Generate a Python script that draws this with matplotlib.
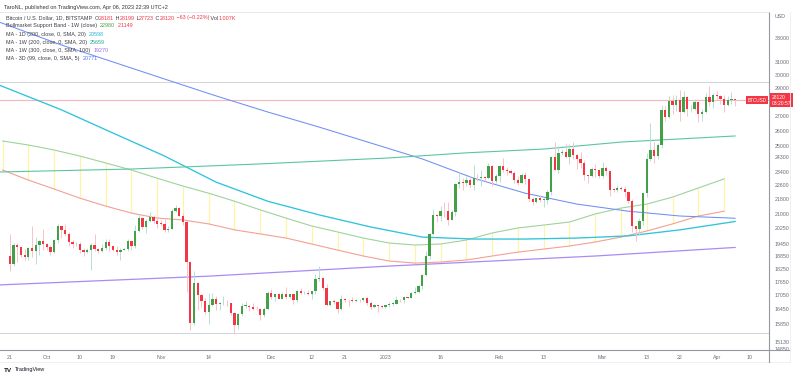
import numpy as np
import pandas as pd
import matplotlib
matplotlib.use("Agg")
import matplotlib.pyplot as plt
import matplotlib.transforms as mtrans
from matplotlib.lines import Line2D

plt.rcParams['font.family'] = ['Liberation Sans', 'DejaVu Sans']

# daily BTCUSD candles, Sep 21 2022 .. Apr 6 2023
dates = pd.date_range('2022-09-21', '2023-04-06', freq='D')

opens = [
    18870, 18480, 19410, 19290, 18920, 18800, 19220, 19080, 19410, 19590,
    19420, 19310, 19060, 19630, 20340, 20160, 19960, 19530, 19420, 19440, 19130, 19060, 19150, 19380, 19180, 19070,
    19260, 19550, 19330, 19120, 19040, 19160, 19200, 19570, 19330, 20090, 20770, 20290, 20600, 20820, 20630,
    20490, 20480, 20150, 20200, 21150, 21300, 20910, 20590, 18540, 15880, 17590, 17040, 16800, 16330, 16620,
    16900, 16660, 16690, 16700, 16690, 16280, 15780, 16230, 16600, 16600, 16520, 16460, 16440, 16210, 16440,
    17160, 16980, 17090, 16890, 17110, 16970, 17090, 16840, 17220, 17130, 17130, 17090, 17210, 17780, 17810,
    17360, 16630, 16780, 16740, 16440, 16900, 16830, 16820, 16780, 16840, 16830, 16920, 16700, 16540, 16630, 16600,
    16540, 16610, 16670, 16670, 16850, 16830, 16950, 16940, 17120, 17180, 17440, 17940, 18850, 19930, 20950,
    20870, 21170, 21160, 20690, 21080, 22680, 22780, 22720, 22930, 22630, 23060, 23020, 23080, 23030, 23770, 22840,
    23130, 23730, 23490, 23430, 23330, 22930, 22760, 23240, 22960, 21800, 21630, 21860, 21780, 21780,
    22200, 24330, 23520, 24570, 24630, 24280, 24830, 24440, 24190, 23940, 23190, 23160, 23560, 23490,
    23140, 23630, 23470, 22360, 22350, 22430, 22410, 22200, 21700, 20360, 20190, 20630, 22140, 24200, 24740,
    24380, 25050, 27420, 26970, 28040, 27770, 28170, 27300, 28330, 27490, 27490, 27990, 27140, 27270, 28360, 28030,
    28480, 28460, 28200, 27800, 28170, 28181]
highs = [
    19950, 19500, 19490, 19310, 19170, 19310, 20340, 19780, 19640, 20180,
    19480, 19390, 19700, 20470, 20360, 20450, 20060, 19620, 19520, 19520, 19250, 19220, 19510, 19950, 19230, 19420,
    19680, 19700, 19350, 19340, 19250, 19250, 19690, 19600, 20410, 21010, 20860, 20740, 21080, 20920, 20830,
    20690, 20790, 20380, 21290, 21470, 21360, 21050, 20680, 18590, 18150, 17640, 17080, 16930, 17160, 17130,
    16990, 16760, 16990, 16830, 16720, 16310, 16270, 16700, 16780, 16620, 16690, 16600, 16480, 16530, 17240,
    17310, 17100, 17150, 17190, 17420, 17110, 17140, 17290, 17350, 17230, 17270, 17240, 17980, 18390, 17850,
    17530, 16800, 16870, 16810, 17050, 16920, 16870, 16950, 16860, 16860, 16940, 16970, 16780, 16660, 16640, 16640,
    16630, 16760, 16770, 17000, 16880, 17020, 16960, 17170, 17390, 17490, 17990, 19100, 19990, 21260, 20990,
    21460, 21640, 21650, 21200, 22740, 23370, 23060, 23170, 23150, 23800, 23280, 23500, 23170, 23950, 23800, 23300,
    23790, 24250, 23700, 23580, 23430, 23150, 23340, 23420, 22990, 21920, 21900, 22060, 21880, 22320,
    24370, 25250, 24990, 24790, 25160, 25120, 25250, 24470, 24600, 24130, 23210, 23670, 23880, 23590,
    24000, 23780, 23480, 22420, 22620, 22570, 22540, 22280, 21820, 20360, 20800, 22160, 24550, 26500, 25250,
    25200, 27760, 27720, 28450, 28520, 28480, 28900, 28790, 28400, 27790, 28200, 28030, 27500, 28650, 29180, 28650,
    28800, 28530, 28480, 28430, 28760, 28199]
lows = [
    18130, 18360, 18560, 18820, 18640, 18680, 18820, 18470, 18880, 19160,
    19160, 18920, 19000, 19500, 19740, 19870, 19330, 19260, 19320, 19020, 18870, 18980, 18190, 19070, 18980, 19060,
    19160, 19100, 19070, 18910, 18660, 19120, 19080, 19160, 19240, 20060, 20210, 20000, 20570, 20520, 20250,
    20360, 20060, 20050, 20180, 21080, 20900, 20400, 17170, 15590, 15770, 16400, 16530, 16250, 15820, 16580,
    16430, 16410, 16640, 16570, 16190, 15480, 15620, 16170, 16480, 16370, 16400, 16420, 16000, 16110, 16430,
    16880, 16790, 16880, 16880, 16880, 16910, 16680, 16740, 17080, 17100, 17070, 16870, 17090, 17660, 17280,
    16590, 16580, 16650, 16270, 16400, 16730, 16560, 16760, 16770, 16730, 16790, 16610, 16460, 16490, 16340, 16490,
    16490, 16550, 16600, 16650, 16750, 16690, 16910, 16910, 17110, 17150, 17320, 17920, 18720, 19890, 20590,
    20620, 20860, 20410, 20660, 20880, 22440, 22320, 22550, 22470, 22360, 22830, 22570, 22880, 22990, 22550, 22720,
    22770, 23390, 23220, 23260, 22750, 22650, 22750, 22680, 21700, 21470, 21600, 21640, 21370, 21520,
    22050, 23510, 23350, 24440, 24240, 23860, 24170, 23600, 23630, 22890, 22760, 23080, 23120, 23030,
    23050, 23210, 22000, 22200, 22200, 22330, 21940, 21600, 20050, 19570, 19900, 20430, 21920, 24070, 23940,
    24210, 24900, 26680, 26860, 27180, 27370, 26650, 27190, 27020, 27260, 27450, 26580, 26660, 27250, 27690, 27550,
    28250, 27870, 27260, 27680, 27850, 27723]
closes = [
    18480, 19410, 19290, 18920, 18800, 19220, 19080, 19410, 19590, 19420,
    19310, 19060, 19630, 20340, 20160, 19960, 19530, 19420, 19440, 19130, 19060, 19150, 19380, 19180, 19070, 19260,
    19550, 19330, 19120, 19040, 19160, 19200, 19570, 19330, 20090, 20770, 20290, 20600, 20820, 20630, 20490,
    20480, 20150, 20200, 21150, 21300, 20910, 20590, 18540, 15880, 17590, 17040, 16800, 16330, 16620, 16900,
    16660, 16690, 16700, 16690, 16280, 15780, 16230, 16600, 16600, 16520, 16460, 16440, 16210, 16440, 17160,
    16980, 17090, 16890, 17110, 16970, 17090, 16840, 17220, 17130, 17130, 17090, 17210, 17780, 17810, 17360,
    16630, 16780, 16740, 16440, 16900, 16830, 16820, 16780, 16840, 16830, 16920, 16700, 16540, 16630, 16600, 16540,
    16610, 16670, 16670, 16850, 16830, 16950, 16940, 17120, 17180, 17440, 17940, 18850, 19930, 20950, 20870,
    21170, 21160, 20690, 21080, 22680, 22780, 22720, 22930, 22630, 23060, 23020, 23080, 23030, 23770, 22840, 23130,
    23730, 23490, 23430, 23330, 22930, 22760, 23240, 22960, 21800, 21630, 21860, 21780, 21780, 22200,
    24330, 23520, 24570, 24630, 24280, 24830, 24440, 24190, 23940, 23190, 23160, 23560, 23490, 23140,
    23630, 23470, 22360, 22350, 22430, 22410, 22200, 21700, 20360, 20190, 20630, 22140, 24200, 24740, 24380,
    25050, 27420, 26970, 28040, 27770, 28170, 27300, 28330, 27490, 27490, 27990, 27140, 27270, 28360, 28030, 28480,
    28460, 28200, 27800, 28170, 28181, 28120]

# Bullmarket support band, weekly points (Mondays)
bsb_dates = pd.date_range('2022-09-19', '2023-04-03', freq='7D')
bsb_ema = [25330, 25070, 24750, 24370, 23940, 23510, 23020, 22560, 22150, 21700, 21220, 20780, 20360, 20050,
           19740, 19490, 19390, 19440, 19640, 20000, 20260, 20410, 20570, 21000, 21320, 21540, 21930, 22450, 22980]
bsb_sma = [23510, 22910, 22390, 21870, 21430, 21050, 20780, 20680, 20470, 20160, 19950, 19740, 19440, 19140,
           18850, 18610, 18510, 18560, 18660, 18850, 19040, 19190, 19340, 19540, 19790, 20100, 20470, 20890, 21149]

# moving averages, sampled every two weeks
ma_dates = pd.to_datetime(['2022-09-18', '2022-10-05', '2022-10-19', '2022-11-02', '2022-11-16', '2022-11-30',
                           '2022-12-14', '2022-12-28', '2023-01-11', '2023-01-25', '2023-02-08', '2023-02-22',
                           '2023-03-08', '2023-03-22', '2023-04-06'])
ma1d_200 = [29250, 27440, 25850, 24370, 22790, 21700, 20950, 20310, 19790, 19690, 19690, 19740, 19850, 20160, 20598]
ma3d_99 = [34390, 32410, 31030, 29700, 28440, 27290, 26250, 25200, 24190, 23020, 22150, 21540, 21150, 20890, 20771]
ma1w_dates = pd.to_datetime(['2022-09-18', '2022-10-24', '2022-11-28', '2023-01-02', '2023-01-23',
                             '2023-02-13', '2023-03-06', '2023-04-06'])
ma1w_200 = [23390, 23570, 23880, 24250, 24570, 24810, 25260, 25659]
ma1w_300_dates = pd.to_datetime(['2022-09-18', '2022-11-14', '2023-01-02', '2023-02-27', '2023-04-06'])
ma1w_300 = [17500, 17900, 18370, 18850, 19270]

price_ticks = [33000, 31000, 30000, 29000, 27000, 26000, 25000, 24300, 23400, 22600, 21800, 21000,
               20250, 19450, 18850, 18250, 17650, 17050, 16450, 15850, 15130, 14850]
x_tick_dates = pd.to_datetime(['2022-09-21', '2022-10-01', '2022-10-10', '2022-10-19', '2022-11-01', '2022-11-14',
                               '2022-12-01', '2022-12-12', '2022-12-21', '2023-01-01', '2023-01-16', '2023-02-01',
                               '2023-02-13', '2023-03-01', '2023-03-13', '2023-03-22', '2023-04-01', '2023-04-10'])
x_tick_labels = ['21', 'Oct', '10', '19', 'Nov', '14', 'Dec', '12', '21', '2023', '16', 'Feb',
                 '13', 'Mar', '13', '22', 'Apr', '10']
last_price = 28120
hlines = [29470, 15470]

W, H = 800, 378
fig = plt.figure(figsize=(8, 3.78), dpi=100)
ax = fig.add_axes([0, 1 - 350 / H, 769 / W, 338 / H])
ax.set_yscale('log')

o = np.array(opens, float)
h = np.array(highs, float)
l = np.array(lows, float)
c = np.array(closes, float)
up = c >= o
GREEN, RED = '#43a047', '#f23645'

# background lines
for v in hlines:
    ax.axhline(v, color='#d1d4dc', lw=0.7, zorder=1)
ax.axhline(last_price, color='#f7b6bd', lw=0.8, zorder=1)

# band fill lines between the two weekly averages
ax.vlines(bsb_dates, bsb_sma, bsb_ema, color='#fff3a8', lw=0.9, zorder=1.5)
ax.plot(bsb_dates, bsb_ema, color='#9ed39b', lw=0.8, zorder=2)
ax.plot(bsb_dates, bsb_sma, color='#f4a093', lw=0.8, zorder=2)
ax.plot(ma_dates, ma1d_200, color='#2ec4dc', lw=0.95, zorder=2)
ax.plot(ma_dates, ma3d_99, color='#6f8ef5', lw=0.75, zorder=2)
ax.plot(ma1w_dates, ma1w_200, color='#5cc4a4', lw=0.8, zorder=2)
ax.plot(ma1w_300_dates, ma1w_300, color='#a98bf5', lw=0.9, zorder=2)

# candles
ax.vlines(dates[up], l[up], h[up], color='#b7dfd8', lw=0.7, zorder=3)
ax.vlines(dates[~up], l[~up], h[~up], color='#f8c3c8', lw=0.7, zorder=3)
body_lo = np.minimum(o, c)
body_h = np.maximum(np.abs(c - o), body_lo * 0.0012)
ax.bar(dates, body_h, bottom=body_lo, width=0.62, color=np.where(up, GREEN, RED), lw=0, zorder=4)

ax.set_xlim(pd.Timestamp('2022-09-21') - pd.Timedelta(days=2.7), pd.Timestamp('2022-09-21') + pd.Timedelta(days=206.2))
ax.set_ylim(14807, 35280)

ax.yaxis.tick_right()
ax.set_yticks(price_ticks)
ax.set_yticklabels([str(v) for v in price_ticks])
ax.yaxis.set_minor_locator(matplotlib.ticker.NullLocator())
ax.tick_params(axis='y', length=0, pad=4, labelsize=3.8, labelcolor='#6a6d78')
ax.set_xticks(x_tick_dates)
ax.set_xticklabels(x_tick_labels)
ax.tick_params(axis='x', length=0, pad=3.5, labelsize=3.8, labelcolor='#6a6d78')
for s in ['left', 'top', 'bottom']:
    ax.spines[s].set_visible(False)
ax.spines['right'].set_color('#9598a1')
ax.spines['right'].set_linewidth(0.8)

# frame lines
def fline(x0, y0, x1, y1, col, lw):
    fig.add_artist(Line2D([x0 / W, x1 / W], [1 - y0 / H, 1 - y1 / H], color=col, lw=lw))

fline(0, 12, 769, 12, '#e0e3eb', 0.6)
fline(0, 350, 790, 350, '#9598a1', 0.8)
fline(0, 362, 790, 362, '#eceef2', 0.6)
fline(769, 350, 769, 362, '#9598a1', 0.8)
fline(790, 12, 790, 362, '#eceef2', 0.6)

# price labels on the right axis
bt = mtrans.blended_transform_factory(ax.transAxes, ax.transData)
ax.text(1.003, last_price, '28120\n03:20:57', transform=bt, ha='left', va='center', fontsize=3.6,
        color='white', linespacing=1.1, bbox=dict(boxstyle='square,pad=0.35', fc=RED, ec='none'), zorder=6,
        clip_on=False)
ax.text(0.997, last_price, 'BTCUSD', transform=bt, ha='right', va='center', fontsize=3.3, color='white',
        bbox=dict(boxstyle='square,pad=0.3', fc=RED, ec='none'), zorder=6)
fig.text(775 / W, 1 - 17 / H, 'USD', fontsize=3.8, color='#6a6d78', va='center')

# header and legend
fig.text(4 / W, 1 - 7 / H, 'TaroNL, published on TradingView.com, Apr 06, 2023 22:39 UTC+2', fontsize=4,
         color='#333333', va='center')

TXT = '#3d3f46'
rows = [
    [('Bitcoin / U.S. Dollar, 1D, BITSTAMP  ', TXT), ('O', TXT), ('28181', RED), (' H', TXT), ('28199', RED),
     (' L', TXT), ('27723', RED), (' C', TXT), ('28120', RED), (' \u221263 (\u22120.22%)', RED), (' Vol', TXT),
     ('1.007K', RED)],
    [('Bullmarket Support Band - 1W (close)  ', TXT), ('22980', '#43a047'), ('  21149', '#f23645')],
    [('MA - 1D (200, close, 0, SMA, 20)  ', TXT), ('20598', '#22b8d2')],
    [('MA - 1W (200, close, 0, SMA, 20)  ', TXT), ('25659', '#26a69a')],
    [('MA - 1W (300, close, 0, SMA, 100)  ', TXT), ('19270', '#9c6ff0')],
    [('MA - 3D (99, close, 0, SMA, 5)  ', TXT), ('20771', '#4f74f0')],
]
row_y = [19.5, 27.3, 35.6, 43.8, 51.6, 59.6]

fig.canvas.draw()
renderer = fig.canvas.get_renderer()
for parts, y in zip(rows, row_y):
    x = 6.0
    for s, col in parts:
        t = fig.text(x / W, 1 - y / H, s, color=col, fontsize=3.9, va='baseline')
        x += t.get_window_extent(renderer).width

# footer logo
fig.text(4 / W, 1 - 370 / H, 'TV', fontsize=4.6, fontweight='bold', color='#131722', va='center')
fig.text(15 / W, 1 - 370 / H, 'TradingView', fontsize=4, color='#131722', va='center')

fig.savefig('out.png', dpi=100, facecolor='white')
